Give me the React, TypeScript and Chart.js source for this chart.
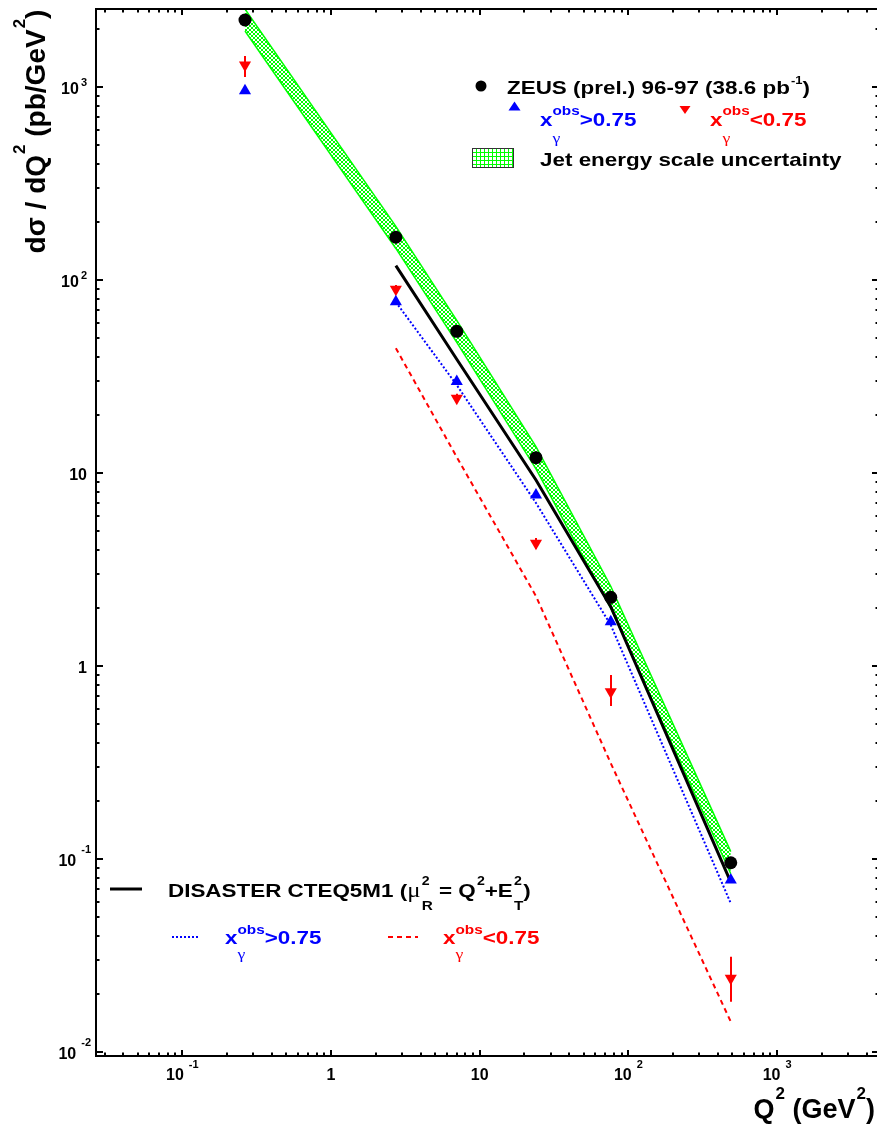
import { useEffect, useRef } from 'react';
import { Chart, registerables } from 'chart.js';

Chart.register(...registerables);

// Q^2 bin centres (GeV^2)
const q2Bins = [0.264, 2.73, 7.01, 23.9, 76.1, 488];
// ZEUS dijet cross sections dσ/dQ² (pb/GeV²)
const zeusAll = [2233, 166.9, 54.3, 12.01, 2.269, 0.0954];
const zeusDirect = [960, 77.3, 29.8, 7.69, 1.696, 0.0777];
const zeusResolved = [1305, 89.7, 24.4, 4.32, 0.735, 0.024];
const zeusResolvedHi = [1453, 94.5, 25.8, 4.6, 0.897, 0.0311];
const zeusResolvedLo = [1131, 85.2, 23.1, 4.05, 0.62, 0.01816];
// jet energy scale uncertainty band
const jesUpper = [2545, 190, 61.9, 13.7, 2.59, 0.109];
const jesLower = [1959, 146, 47.6, 10.5, 1.99, 0.0837];
// DISASTER CTEQ5M1 predictions
const nloBins = [2.73, 7.01, 23.9, 76.1, 488];
const nloAll = [118.9, 38.9, 9.2, 2.03, 0.0758];
const nloDirect = [77.0, 28.6, 7.0, 1.63, 0.0588];
const nloResolved = [44.4, 12.1, 2.3, 0.313, 0.0143];

// axis labels
const xTickValues = [0.1, 1, 10, 100, 1000];
const xTickBase = ['10', '1', '10', '10', '10'];
const xTickExp = ['-1', '', '', '2', '3'];
const yTickValues = [0.01, 0.1, 1, 10, 100, 1000];
const yTickBase = ['10', '10', '1', '10', '10', '10'];
const yTickExp = ['-2', '-1', '', '', '2', '3'];

const X_MIN = 0.02628;
const X_MAX = 4697;
const Y_MIN = 0.0095;
const Y_MAX = 2546;

const BLUE = '#0000ff';
const RED = '#ff0000';
const GREEN = '#00ff00';

const SANS = '"Liberation Sans", Arial, Helvetica, sans-serif';
const bold = (px: number) => `bold ${px}px ${SANS}`;
const greek = (px: number) => `${px}px "Liberation Serif", "DejaVu Serif", serif`;

type Part = { t: string; font?: string } | { sup?: string; sub?: string };
type Style = {
  font: string;
  supFont: string;
  subFont: string;
  supDy: number;
  subDy: number;
  gap: number;
  color: string;
  sx: number;
};

function partWidth(ctx: CanvasRenderingContext2D, p: Part, s: Style) {
  if ('t' in p) {
    ctx.font = p.font ?? s.font;
    return ctx.measureText(p.t).width;
  }
  let a = 0;
  let b = 0;
  if (p.sup) {
    ctx.font = s.supFont;
    a = ctx.measureText(p.sup).width;
  }
  if (p.sub) {
    ctx.font = s.subFont;
    b = ctx.measureText(p.sub).width;
  }
  return s.gap + Math.max(a, b);
}

function drawRich(
  ctx: CanvasRenderingContext2D,
  x: number,
  y: number,
  parts: Part[],
  s: Style,
  align: 'left' | 'right' | 'center'
) {
  const w = parts.reduce((acc, p) => acc + partWidth(ctx, p, s), 0) * s.sx;
  const x0 = align === 'left' ? x : align === 'right' ? x - w : x - w / 2;
  ctx.save();
  ctx.translate(x0, y);
  ctx.scale(s.sx, 1);
  ctx.fillStyle = s.color;
  ctx.textAlign = 'left';
  ctx.textBaseline = 'alphabetic';
  let cx = 0;
  for (const p of parts) {
    if ('t' in p) {
      ctx.font = p.font ?? s.font;
      ctx.fillText(p.t, cx, 0);
      cx += ctx.measureText(p.t).width;
    } else {
      let a = 0;
      let b = 0;
      if (p.sup) {
        ctx.font = s.supFont;
        ctx.fillText(p.sup, cx + s.gap, s.supDy);
        a = ctx.measureText(p.sup).width;
      }
      if (p.sub) {
        ctx.font = s.subFont;
        ctx.fillText(p.sub, cx + s.gap, s.subDy);
        b = ctx.measureText(p.sub).width;
      }
      cx += s.gap + Math.max(a, b);
    }
  }
  ctx.restore();
}

function triangle(
  ctx: CanvasRenderingContext2D,
  cx: number,
  cy: number,
  w: number,
  h: number,
  up: boolean,
  color: string
) {
  ctx.save();
  ctx.fillStyle = color;
  ctx.beginPath();
  if (up) {
    ctx.moveTo(cx - w / 2, cy + h / 2);
    ctx.lineTo(cx + w / 2, cy + h / 2);
    ctx.lineTo(cx, cy - h / 2);
  } else {
    ctx.moveTo(cx - w / 2, cy - h / 2);
    ctx.lineTo(cx + w / 2, cy - h / 2);
    ctx.lineTo(cx, cy + h / 2);
  }
  ctx.closePath();
  ctx.fill();
  ctx.restore();
}

function makeHatch(kind: 'cross' | 'grid'): CanvasPattern | string {
  const tile = document.createElement('canvas');
  const n = 4;
  tile.width = n;
  tile.height = n;
  const g = tile.getContext('2d');
  if (!g) return GREEN;
  g.strokeStyle = GREEN;
  g.lineWidth = 1;
  g.beginPath();
  if (kind === 'cross') {
    g.moveTo(-1, -1);
    g.lineTo(n + 1, n + 1);
    g.moveTo(n + 1, -1);
    g.lineTo(-1, n + 1);
  } else {
    g.moveTo(0.5, 0);
    g.lineTo(0.5, n);
    g.moveTo(0, 0.5);
    g.lineTo(n, 0.5);
  }
  g.stroke();
  return g.createPattern(tile, 'repeat') ?? GREEN;
}

const pts = (xs: number[], ys: number[]) => xs.map((x, i) => ({ x, y: ys[i] }));

const legendStyle = (color: string): Style => ({
  font: bold(19),
  supFont: bold(13),
  subFont: greek(15),
  supDy: -11,
  subDy: 17,
  gap: 0,
  color,
  sx: 1.18,
});

export default function App() {
  const ref = useRef<HTMLCanvasElement>(null);

  useEffect(() => {
    const canvas = ref.current;
    if (!canvas) return;
    const bandFill = makeHatch('cross');
    const boxFill = makeHatch('grid');

    // red error bars for the x_gamma < 0.75 sample
    const errorBars = {
      id: 'errorBars',
      afterDatasetsDraw(chart: Chart) {
        const { ctx } = chart;
        const xs = chart.scales.x;
        const ys = chart.scales.y;
        ctx.save();
        ctx.strokeStyle = RED;
        ctx.lineWidth = 2;
        q2Bins.forEach((q, i) => {
          const px = Math.round(xs.getPixelForValue(q));
          ctx.beginPath();
          ctx.moveTo(px, ys.getPixelForValue(zeusResolvedHi[i]));
          ctx.lineTo(px, ys.getPixelForValue(zeusResolvedLo[i]));
          ctx.stroke();
        });
        ctx.restore();
      },
    };

    const frame = {
      id: 'frame',
      afterDraw(chart: Chart) {
        const { ctx, chartArea } = chart;
        const { left, top, bottom } = chartArea;
        // the right-hand frame edge sits just outside the canvas
        const right = chartArea.right + 2;
        const xs = chart.scales.x;
        const ys = chart.scales.y;
        ctx.save();
        ctx.strokeStyle = '#000';
        ctx.lineWidth = 2;
        const seg = (x1: number, y1: number, x2: number, y2: number) => {
          ctx.beginPath();
          ctx.moveTo(x1, y1);
          ctx.lineTo(x2, y2);
          ctx.stroke();
        };
        // log ticks on all four sides, pointing inwards
        for (let e = -3; e <= 3; e++) {
          for (let m = 1; m <= 9; m++) {
            const v = m * Math.pow(10, e);
            if (v >= xs.min && v <= xs.max) {
              const px = Math.round(xs.getPixelForValue(v));
              const len = m === 1 ? 6 : 3.5;
              seg(px, bottom, px, bottom - len);
              seg(px, top, px, top + len);
            }
            if (v >= ys.min && v <= ys.max) {
              const py = Math.round(ys.getPixelForValue(v));
              const len = m === 1 ? 7 : 3.5;
              seg(left, py, left + len, py);
              seg(right, py, right - len, py);
            }
          }
        }
        ctx.strokeRect(left, top, right - left, bottom - top);

        // tick labels
        const tickStyle: Style = {
          font: bold(16),
          supFont: bold(11),
          subFont: bold(11),
          supDy: -12,
          subDy: 0,
          gap: 5,
          color: '#000',
          sx: 1,
        };
        xTickValues.forEach((v, i) => {
          const parts: Part[] = [{ t: xTickBase[i] }];
          if (xTickExp[i]) parts.push({ sup: xTickExp[i] });
          drawRich(ctx, xs.getPixelForValue(v), 1080, parts, tickStyle, 'center');
        });
        yTickValues.forEach((v, i) => {
          const exp = yTickExp[i];
          const parts: Part[] = [{ t: yTickBase[i] }];
          if (exp) parts.push({ sup: exp });
          const neg = exp.startsWith('-');
          const yStyle: Style = { ...tickStyle, gap: neg ? 5 : 2, supDy: neg ? -13 : -8 };
          const py = ys.getPixelForValue(v) + 7;
          drawRich(ctx, exp ? (neg ? 91 : 87) : 87, py, parts, yStyle, 'right');
        });

        // axis titles
        const titleStyle: Style = {
          font: bold(27),
          supFont: bold(17),
          subFont: bold(17),
          supDy: -19,
          subDy: 0,
          gap: 1,
          color: '#000',
          sx: 1,
        };
        drawRich(
          ctx,
          875,
          1118,
          [{ t: 'Q' }, { sup: '2' }, { t: ' (GeV' }, { sup: '2' }, { t: ')' }],
          titleStyle,
          'right'
        );
        ctx.save();
        ctx.translate(45, 131.5);
        ctx.rotate(-Math.PI / 2);
        drawRich(
          ctx,
          0,
          0,
          [{ t: 'dσ / dQ' }, { sup: '2' }, { t: ' (pb/GeV' }, { sup: '2' }, { t: ')' }],
          { ...titleStyle, font: bold(28), supDy: -20 },
          'center'
        );
        ctx.restore();

        // data legend (upper right)
        ctx.fillStyle = '#000';
        ctx.beginPath();
        ctx.arc(481, 86, 5.5, 0, Math.PI * 2);
        ctx.fill();
        drawRich(
          ctx,
          507,
          93.5,
          [{ t: 'ZEUS (prel.) 96-97 (38.6 pb' }, { sup: '-1' }, { t: ')' }],
          { ...legendStyle('#000'), supFont: bold(11), supDy: -9.5, gap: 1 },
          'left'
        );
        triangle(ctx, 514.5, 106, 12, 9, true, BLUE);
        drawRich(ctx, 540, 126, [{ t: 'x' }, { sup: 'obs', sub: 'γ' }, { t: '>0.75' }], legendStyle(BLUE), 'left');
        triangle(ctx, 685, 110, 11, 8, false, RED);
        drawRich(ctx, 710, 126, [{ t: 'x' }, { sup: 'obs', sub: 'γ' }, { t: '<0.75' }], legendStyle(RED), 'left');
        ctx.fillStyle = boxFill;
        ctx.fillRect(473, 149, 40, 18);
        ctx.strokeStyle = '#333';
        ctx.lineWidth = 1;
        ctx.strokeRect(472.5, 148.5, 41, 19);
        drawRich(ctx, 540, 166, [{ t: 'Jet energy scale uncertainty' }], legendStyle('#000'), 'left');

        // theory legend (lower left)
        ctx.strokeStyle = '#000';
        ctx.lineWidth = 3;
        seg(110, 889, 142, 889);
        drawRich(
          ctx,
          168,
          897,
          [
            { t: 'DISASTER CTEQ5M1 (' },
            { t: 'μ', font: greek(21) },
            { sup: '2', sub: 'R' },
            { t: ' = Q' },
            { sup: '2' },
            { t: '+E' },
            { sup: '2', sub: 'T' },
            { t: ')' },
          ],
          { ...legendStyle('#000'), supFont: bold(12), subFont: bold(13), supDy: -12, subDy: 13, gap: 1 },
          'left'
        );
        ctx.lineWidth = 2;
        ctx.strokeStyle = BLUE;
        ctx.setLineDash([2, 2]);
        seg(172, 937, 200, 937);
        ctx.strokeStyle = RED;
        ctx.setLineDash([5, 4]);
        seg(388, 937, 418, 937);
        ctx.setLineDash([]);
        const lowStyle = (c: string): Style => ({ ...legendStyle(c), supDy: -10.5, subDy: 15 });
        drawRich(ctx, 225, 944, [{ t: 'x' }, { sup: 'obs', sub: 'γ' }, { t: '>0.75' }], lowStyle(BLUE), 'left');
        drawRich(ctx, 443, 944, [{ t: 'x' }, { sup: 'obs', sub: 'γ' }, { t: '<0.75' }], lowStyle(RED), 'left');

        ctx.restore();
      },
    };

    const chart = new Chart(canvas, {
      type: 'line',
      data: {
        datasets: [
          {
            label: 'ZEUS (prel.) 96-97',
            data: pts(q2Bins, zeusAll),
            showLine: false,
            pointStyle: 'circle',
            pointRadius: 6.5,
            backgroundColor: '#000',
            borderColor: '#000',
            pointBorderWidth: 0,
            order: 0,
          },
          {
            label: 'x_gamma > 0.75',
            data: pts(q2Bins, zeusDirect),
            showLine: false,
            pointStyle: 'triangle',
            pointRadius: 7,
            backgroundColor: BLUE,
            borderColor: BLUE,
            pointBorderWidth: 0,
            order: 1,
          },
          {
            label: 'x_gamma < 0.75',
            data: pts(q2Bins, zeusResolved),
            showLine: false,
            pointStyle: 'triangle',
            pointRotation: 180,
            pointRadius: 7,
            backgroundColor: RED,
            borderColor: RED,
            pointBorderWidth: 0,
            order: 2,
          },
          {
            label: 'DISASTER CTEQ5M1',
            data: pts(nloBins, nloAll),
            borderColor: '#000',
            borderWidth: 3,
            pointRadius: 0,
            fill: false,
            order: 3,
          },
          {
            label: 'DISASTER x_gamma > 0.75',
            data: pts(nloBins, nloDirect),
            borderColor: BLUE,
            borderWidth: 2,
            borderDash: [2, 2],
            pointRadius: 0,
            fill: false,
            order: 4,
          },
          {
            label: 'DISASTER x_gamma < 0.75',
            data: pts(nloBins, nloResolved),
            borderColor: RED,
            borderWidth: 2,
            borderDash: [5, 4],
            pointRadius: 0,
            fill: false,
            order: 5,
          },
          {
            label: 'JES upper',
            data: pts(q2Bins, jesUpper),
            borderColor: GREEN,
            borderWidth: 1.5,
            pointRadius: 0,
            backgroundColor: bandFill as any,
            fill: '+1',
            order: 6,
          },
          {
            label: 'JES lower',
            data: pts(q2Bins, jesLower),
            borderColor: GREEN,
            borderWidth: 1.5,
            pointRadius: 0,
            fill: false,
            order: 7,
          },
        ],
      },
      options: {
        responsive: false,
        animation: false,
        devicePixelRatio: 1,
        events: [],
        layout: { autoPadding: false, padding: { left: 96, top: 9, right: 0, bottom: 68 } },
        scales: {
          x: { type: 'logarithmic', min: X_MIN, max: X_MAX, display: false },
          y: { type: 'logarithmic', min: Y_MIN, max: Y_MAX, display: false },
        },
        plugins: {
          legend: { display: false },
          tooltip: { enabled: false },
          title: { display: false },
        },
      },
      plugins: [errorBars, frame],
    });
    return () => chart.destroy();
  }, []);

  return (
    <div style={{ position: 'absolute', left: 0, top: 0, width: 877, height: 1124, background: '#fff' }}>
      <canvas ref={ref} width={877} height={1124} style={{ display: 'block', width: 877, height: 1124 }} />
    </div>
  );
}
